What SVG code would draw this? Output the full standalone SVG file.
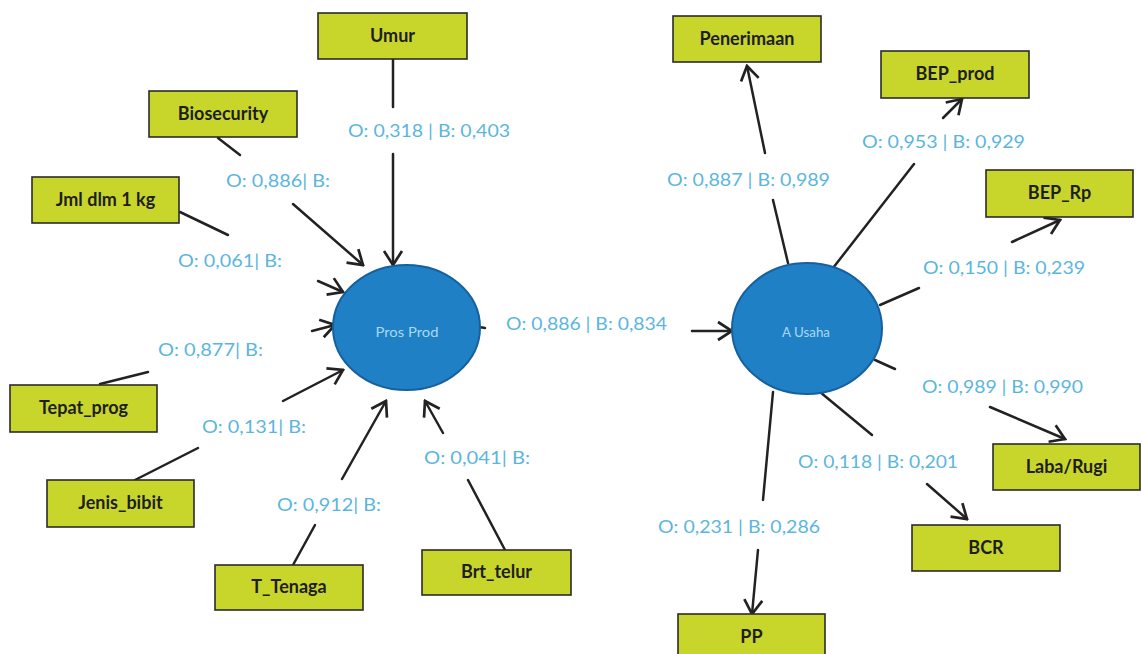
<svg xmlns="http://www.w3.org/2000/svg" width="1141" height="654" viewBox="0 0 1141 654">
<style>
.box{fill:#c8d62c;stroke:#2b2b2b;stroke-width:1.6}
.nl{font-family:Lato,"Liberation Sans",sans-serif;font-weight:700;font-size:18px;fill:#1e1e1e;text-anchor:middle}
.val{font-family:Lato,"Liberation Sans",sans-serif;font-size:18px;fill:#5bb6de}
.circ{fill:#1f80c6;stroke:#16609e;stroke-width:2}
.cl{font-family:Lato,"Liberation Sans",sans-serif;font-size:13px;fill:#a9d8f3;text-anchor:middle}
.ln{stroke:#222;stroke-width:2.5;fill:none;stroke-linecap:round}
.ar{marker-end:url(#arr)}
</style>
<defs>
<marker id="arr" viewBox="0 0 18 22" refX="16" refY="11" markerWidth="18" markerHeight="22" markerUnits="userSpaceOnUse" orient="auto">
<path d="M2,2 L16,11 L2,20" fill="none" stroke="#222" stroke-width="2.7" stroke-linejoin="miter"/>
</marker>
</defs>
<rect width="1141" height="654" fill="#ffffff"/>
<g id="connectors">
<line class="ln" x1="393" y1="59" x2="393" y2="107"/>
<line class="ln ar" x1="393" y1="154" x2="393" y2="265"/>
<line class="ln" x1="218" y1="138" x2="240" y2="155"/>
<line class="ln ar" x1="293" y1="204" x2="363" y2="265"/>
<line class="ln" x1="180" y1="212" x2="228" y2="235"/>
<line class="ln ar" x1="318" y1="281" x2="343" y2="292"/>
<line class="ln" x1="100" y1="384" x2="148" y2="372"/>
<line class="ln ar" x1="312" y1="331" x2="335" y2="325"/>
<line class="ln" x1="135" y1="480" x2="198" y2="448"/>
<line class="ln ar" x1="283" y1="401" x2="343" y2="370"/>
<line class="ln" x1="293" y1="565" x2="315" y2="525"/>
<line class="ln ar" x1="342" y1="479" x2="386" y2="401"/>
<line class="ln" x1="505" y1="550" x2="468" y2="480"/>
<line class="ln ar" x1="443" y1="433" x2="425" y2="401"/>
<line class="ln" x1="479" y1="327" x2="485" y2="328"/>
<line class="ln ar" x1="692" y1="331" x2="732" y2="331"/>
<line class="ln" x1="788" y1="263" x2="773" y2="200"/>
<line class="ln ar" x1="765" y1="153" x2="747" y2="66"/>
<line class="ln" x1="833" y1="268" x2="914" y2="164"/>
<line class="ln ar" x1="943" y1="118" x2="962" y2="99"/>
<line class="ln" x1="880" y1="305" x2="919" y2="288"/>
<line class="ln ar" x1="1012" y1="242" x2="1060" y2="220"/>
<line class="ln" x1="875" y1="360" x2="895" y2="369"/>
<line class="ln ar" x1="990" y1="407" x2="1065" y2="439"/>
<line class="ln" x1="820" y1="392" x2="872" y2="435"/>
<line class="ln ar" x1="927" y1="484" x2="967" y2="519"/>
<line class="ln" x1="773" y1="392" x2="763" y2="500"/>
<line class="ln ar" x1="758" y1="550" x2="752" y2="614"/>
</g>
<g id="labels">
<text class="val" x="348" y="137" textLength="162" lengthAdjust="spacingAndGlyphs">O: 0,318 | B: 0,403</text>
<text class="val" x="226" y="187" textLength="104" lengthAdjust="spacingAndGlyphs">O: 0,886| B:</text>
<text class="val" x="178" y="267" textLength="104" lengthAdjust="spacingAndGlyphs">O: 0,061| B:</text>
<text class="val" x="158" y="356" textLength="105" lengthAdjust="spacingAndGlyphs">O: 0,877| B:</text>
<text class="val" x="202" y="433" textLength="104" lengthAdjust="spacingAndGlyphs">O: 0,131| B:</text>
<text class="val" x="277" y="511" textLength="104" lengthAdjust="spacingAndGlyphs">O: 0,912| B:</text>
<text class="val" x="424" y="464" textLength="106" lengthAdjust="spacingAndGlyphs">O: 0,041| B:</text>
<text class="val" x="506" y="330" textLength="161" lengthAdjust="spacingAndGlyphs">O: 0,886 | B: 0,834</text>
<text class="val" x="667" y="186" textLength="163" lengthAdjust="spacingAndGlyphs">O: 0,887 | B: 0,989</text>
<text class="val" x="862" y="148" textLength="163" lengthAdjust="spacingAndGlyphs">O: 0,953 | B: 0,929</text>
<text class="val" x="923" y="274" textLength="162" lengthAdjust="spacingAndGlyphs">O: 0,150 | B: 0,239</text>
<text class="val" x="922" y="393" textLength="161" lengthAdjust="spacingAndGlyphs">O: 0,989 | B: 0,990</text>
<text class="val" x="798" y="468" textLength="160" lengthAdjust="spacingAndGlyphs">O: 0,118 | B: 0,201</text>
<text class="val" x="658" y="533" textLength="162" lengthAdjust="spacingAndGlyphs">O: 0,231 | B: 0,286</text>
</g>
<g id="pros-prod">
<ellipse class="circ" cx="406.5" cy="327.5" rx="73.5" ry="62.5"/>
<text class="cl" x="407" y="337" textLength="63" lengthAdjust="spacingAndGlyphs">Pros Prod</text>
</g>
<g id="a-usaha">
<ellipse class="circ" cx="807" cy="328.5" rx="75" ry="65.5"/>
<text class="cl" x="806" y="337" textLength="48" lengthAdjust="spacingAndGlyphs">A Usaha</text>
</g>
<g id="umur"><rect class="box" x="318" y="13" width="149" height="46"/><text class="nl" x="392.5" y="42">Umur</text></g>
<g id="biosecurity"><rect class="box" x="149" y="91" width="148" height="46"/><text class="nl" x="223" y="120">Biosecurity</text></g>
<g id="jml"><rect class="box" x="32" y="177" width="147" height="46"/><text class="nl" x="105.5" y="206">Jml dlm 1 kg</text></g>
<g id="tepat-prog"><rect class="box" x="10" y="385" width="147" height="47"/><text class="nl" x="83.5" y="414">Tepat_prog</text></g>
<g id="jenis-bibit"><rect class="box" x="47" y="480" width="147" height="47"/><text class="nl" x="120.5" y="509">Jenis_bibit</text></g>
<g id="t-tenaga"><rect class="box" x="215" y="565" width="148" height="45"/><text class="nl" x="289" y="593">T_Tenaga</text></g>
<g id="brt-telur"><rect class="box" x="422" y="550" width="149" height="45"/><text class="nl" x="496.5" y="578">Brt_telur</text></g>
<g id="penerimaan"><rect class="box" x="673" y="16" width="148" height="46"/><text class="nl" x="747" y="45">Penerimaan</text></g>
<g id="bep-prod"><rect class="box" x="881" y="51" width="148" height="47"/><text class="nl" x="955" y="80">BEP_prod</text></g>
<g id="bep-rp"><rect class="box" x="986" y="170" width="147" height="47"/><text class="nl" x="1059.5" y="199">BEP_Rp</text></g>
<g id="laba-rugi"><rect class="box" x="993" y="444" width="147" height="46"/><text class="nl" x="1066.5" y="473">Laba/Rugi</text></g>
<g id="bcr"><rect class="box" x="912" y="525" width="148" height="46"/><text class="nl" x="986" y="554">BCR</text></g>
<g id="pp"><rect class="box" x="678" y="614" width="147" height="46"/><text class="nl" x="751.5" y="643">PP</text></g>
</svg>
